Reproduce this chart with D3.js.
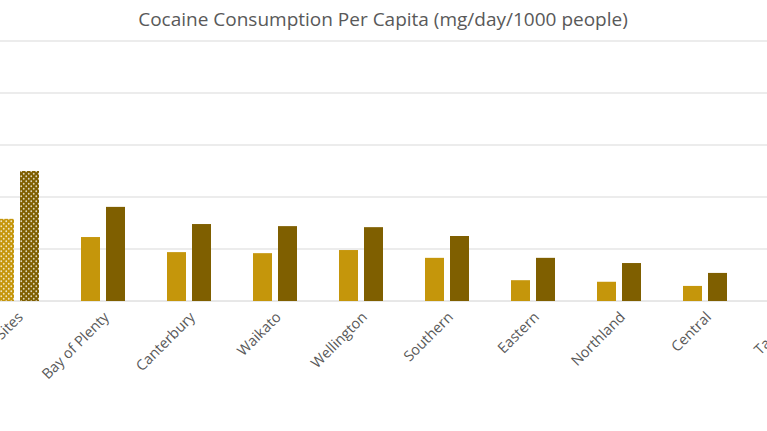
<!DOCTYPE html><html><head><meta charset="utf-8"><script src="https://cdn.jsdelivr.net/npm/d3@7"></script>
<style>body{margin:0;background:#fff;overflow:hidden}</style></head><body><svg id="c" width="767" height="431"></svg>
<script>
const categories=["All Sites","Bay of Plenty","Canterbury","Waikato","Wellington","Southern","Eastern","Northland","Central","Tasman"];
const series1=[158,123,94,92,98,83,40,37,29,0];
const series2=[250,181,148,144,142,125,83,73,54,0];
const yTicks=[0,100,200,300,400,500];
const svg=d3.select("#c");
const defs=svg.append("defs");
[["p1","#C5960B"],["p2","#7F5F00"]].forEach(([id,c])=>{
 const p=defs.append("pattern").attr("id",id).attr("width",5).attr("height",5).attr("patternUnits","userSpaceOnUse");
 p.append("rect").attr("width",5).attr("height",5).attr("fill",c);
 p.append("circle").attr("cx",1.25).attr("cy",1.25).attr("r",0.9).attr("fill","#fff").attr("opacity",0.75);
 p.append("circle").attr("cx",3.75).attr("cy",3.75).attr("r",0.9).attr("fill","#fff").attr("opacity",0.75);
});
const x=d3.scaleBand().domain(categories).range([-26,834]);
const y=d3.scaleLinear().domain([0,500]).range([301,41]);
svg.append("g").selectAll("line").data(yTicks).join("line").attr("x1",0).attr("x2",767)
 .attr("y1",d=>y(d)).attr("y2",d=>y(d)).attr("stroke",d=>d===0?"#d0d0d0":"#d9d9d9").attr("stroke-width",1);
const cx=d=>x(d)+x.bandwidth()/2;
svg.append("g").selectAll("rect").data(categories).join("rect").attr("x",d=>cx(d)-22).attr("width",19)
 .attr("y",(d,i)=>y(series1[i])).attr("height",(d,i)=>y(0)-y(series1[i])).attr("fill",(d,i)=>i===0?"url(#p1)":"#C5960B");
svg.append("g").selectAll("rect").data(categories).join("rect").attr("x",d=>cx(d)+3).attr("width",19)
 .attr("y",(d,i)=>y(series2[i])).attr("height",(d,i)=>y(0)-y(series2[i])).attr("fill",(d,i)=>i===0?"url(#p2)":"#7F5F00");
svg.append("g").selectAll("text").data(categories).join("text")
 .attr("transform",d=>`translate(${cx(d)+7},${318}) rotate(-45)`).attr("text-anchor","end")
 .attr("font-family","Open Sans, sans-serif").attr("font-size",14.5).attr("fill","#595959").text(d=>d);
svg.append("text").attr("x",383).attr("y",26).attr("text-anchor","middle").attr("font-family","Open Sans, sans-serif")
 .attr("font-size",19).attr("fill","#595959").text("Cocaine Consumption Per Capita (mg/day/1000 people)");
</script></body></html>
